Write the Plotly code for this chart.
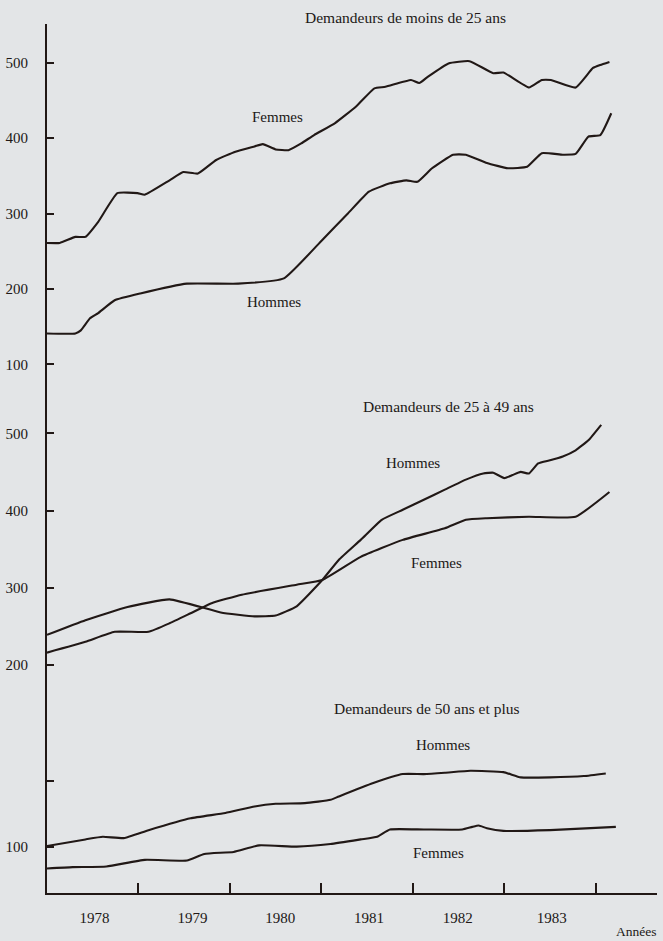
import plotly.graph_objects as go

# Demandeurs de moins de 25 ans (milliers)
years_young_f = [1978.0, 1978.14, 1978.31, 1978.42, 1978.56, 1978.77, 1978.99, 1979.07, 1979.34, 1979.49, 1979.65,
                 1979.85, 1980.06, 1980.27, 1980.36, 1980.50, 1980.64, 1980.78, 1980.92, 1981.15, 1981.38, 1981.58,
                 1981.70, 1981.98, 1982.07, 1982.16, 1982.39, 1982.62, 1982.88, 1982.99, 1983.27, 1983.41, 1983.51,
                 1983.78, 1983.97, 1984.05, 1984.15]
young_f = [261, 261, 269, 269, 289, 327, 327, 325, 344, 355, 353, 371, 382, 389, 392, 385, 384, 393, 404, 420, 442,
           466, 468, 477, 473, 481, 499, 502, 486, 487, 467, 477, 477, 467, 493, 497, 501]
years_young_h = [1978.0, 1978.31, 1978.37, 1978.47, 1978.56, 1978.74, 1979.02, 1979.53, 1980.09, 1980.59, 1981.01,
                 1981.29, 1981.52, 1981.75, 1981.93, 1982.05, 1982.21, 1982.44, 1982.58, 1982.81, 1983.04, 1983.25,
                 1983.41, 1983.64, 1983.78, 1983.92, 1984.05, 1984.17]
young_h = [141, 141, 145, 161, 168, 185, 194, 207, 207, 214, 265, 300, 329, 340, 344, 342, 360, 378, 378, 367, 360,
           362, 380, 378, 379, 402, 404, 433]

# Demandeurs de 25 à 49 ans
years_mid_h = [1978.0, 1978.42, 1978.88, 1979.34, 1979.90, 1980.27, 1980.50, 1980.73, 1981.01, 1981.19, 1981.43,
               1981.66, 1981.89, 1982.12, 1982.35, 1982.58, 1982.77, 1982.88, 1983.00, 1983.09, 1983.18, 1983.27,
               1983.37, 1983.50, 1983.64, 1983.78, 1983.92, 1984.06]
mid_h = [239, 258, 275, 285, 268, 263, 264, 276, 310, 336, 362, 388, 401, 414, 427, 440, 448, 449, 442, 446, 450,
         448, 461, 465, 470, 478, 491, 511]
years_mid_f = [1978.0, 1978.42, 1978.74, 1979.11, 1979.34, 1979.57, 1979.80, 1980.13, 1980.73, 1981.01, 1981.43,
               1981.89, 1982.35, 1982.58, 1982.81, 1983.27, 1983.78, 1984.15]
mid_f = [216, 230, 243, 243, 254, 267, 280, 291, 304, 310, 340, 362, 377, 388, 390, 392, 392, 424]

# Demandeurs de 50 ans et plus
years_old_h = [1978.0, 1978.42, 1978.61, 1978.84, 1979.11, 1979.57, 1979.95, 1980.27, 1980.50, 1980.82, 1981.10,
               1981.19, 1981.56, 1981.89, 1982.12, 1982.35, 1982.63, 1982.99, 1983.18, 1983.50, 1983.87, 1984.11]
old_h = [101, 111, 115, 113, 125, 143, 151, 161, 165, 166, 171, 176, 196, 210, 210, 212, 215, 213, 205, 205, 207, 211]
years_old_f = [1978.0, 1978.28, 1978.65, 1979.07, 1979.53, 1979.72, 1980.04, 1980.32, 1980.73, 1981.10, 1981.43,
               1981.61, 1981.75, 1982.12, 1982.54, 1982.65, 1982.72, 1982.81, 1982.99, 1983.50, 1984.22]
old_f = [67, 69, 70, 80, 79, 89, 92, 102, 100, 104, 111, 115, 126, 126, 126, 130, 132, 128, 124, 125, 130]

year_labels = ["1978", "1979", "1980", "1981", "1982", "1983"]
year_label_pos = [1978.52, 1979.59, 1980.55, 1981.52, 1982.49, 1983.52]
year_bounds = [1979, 1980, 1981, 1982, 1983, 1984]

BG = "#e3e5e7"
INK = "#211816"
FONT = "Liberation Serif, Times New Roman, serif"

fig = go.Figure()
panels = [
    ("y", years_young_f, young_f, years_young_h, young_h),
    ("y2", years_mid_h, mid_h, years_mid_f, mid_f),
    ("y3", years_old_h, old_h, years_old_f, old_f),
]
for yref, xa, ya, xb, yb in panels:
    for xs, ys in ((xa, ya), (xb, yb)):
        fig.add_trace(go.Scatter(x=xs, y=ys, xaxis="x", yaxis=yref, mode="lines",
                                 line={"color": INK, "width": 2.1, "shape": "spline", "smoothing": 0.4},
                                 showlegend=False, hoverinfo="skip"))

yax = dict(showline=True, linecolor=INK, linewidth=1.8, ticks="inside", ticklen=7, tickwidth=1.6,
           tickcolor=INK, showgrid=False, zeroline=False, anchor="x", ticklabelstandoff=14, automargin=False,
           tickfont={"family": FONT, "size": 15, "color": INK})

fig.update_layout(
    width=663, height=941,
    paper_bgcolor=BG, plot_bgcolor=BG,
    margin={"l": 47, "r": 6, "t": 24, "b": 48},
    font={"family": FONT, "color": INK, "size": 15},
    xaxis=dict(range=[1978.0, 1984.67], showline=True, linecolor=INK, linewidth=1.8, showgrid=False,
               zeroline=False, anchor="y3", tickmode="array", tickvals=year_label_pos, ticktext=year_labels,
               ticks="", ticklabelstandoff=10, automargin=False,
               tickfont={"family": FONT, "size": 15, "color": INK},
               minor={"tickmode": "array", "tickvals": year_bounds, "ticks": "inside", "ticklen": 10,
                      "tickwidth": 1.6, "tickcolor": INK, "showgrid": False}),
    yaxis=dict(yax, domain=[0.5673, 1.0], range=[52.7, 551.3], tickvals=[100, 200, 300, 400, 500]),
    yaxis2=dict(yax, domain=[0.2336, 0.5673], range=[167.6, 543.1], tickvals=[200, 300, 400, 500]),
    yaxis3=dict(yax, domain=[0.0, 0.2336], range=[29.8, 337.4], tickvals=[100, 200], ticktext=["100", ""]),
)

titles = [("Demandeurs de moins de 25 ans", 0.5876, 1.008),
          ("Demandeurs de 25 à 49 ans", 0.658, 0.5593),
          ("Demandeurs de 50 ans et plus", 0.6236, 0.2125)]
for text, xp, yp in titles:
    fig.add_annotation(text=text, x=xp, y=yp, xref="paper", yref="paper", yanchor="middle", showarrow=False,
                       font={"family": FONT, "size": 15.5, "color": INK})

labels = [("Femmes", 1980.52, 428, "y"), ("Hommes", 1980.48, 183, "y"),
          ("Hommes", 1982.0, 461, "y2"), ("Femmes", 1982.26, 332, "y2"),
          ("Hommes", 1982.33, 254, "y3"), ("Femmes", 1982.28, 90, "y3")]
for text, xv, yv, yr in labels:
    fig.add_annotation(text=text, x=xv, y=yv, xref="x", yref=yr, yanchor="middle", showarrow=False,
                       font={"family": FONT, "size": 15, "color": INK})

fig.add_annotation(text="Années", x=1.003, y=-0.044, xref="paper", yref="paper", xanchor="right",
                   yanchor="middle", showarrow=False, font={"family": FONT, "size": 13.5, "color": INK})

# the page body default margin would shift the figure by 8px
fig.write_html("out.html", config={"displayModeBar": False},
               post_script="document.body.style.margin='0px';")
